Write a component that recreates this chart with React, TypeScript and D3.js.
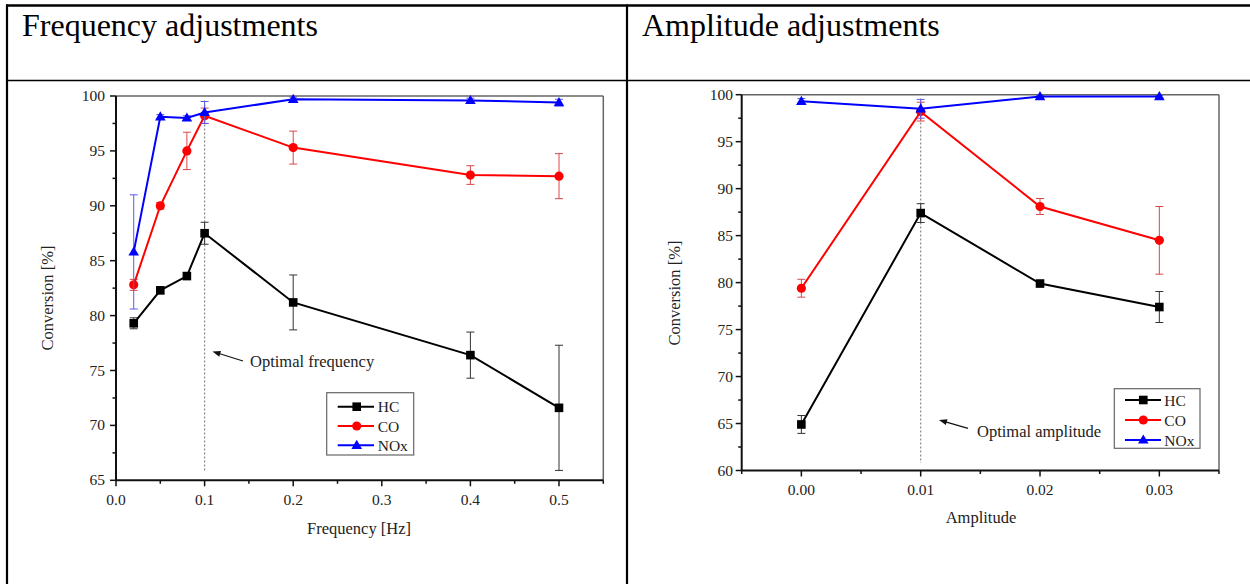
import React from "react";
import * as d3 from "d3";

// ---------- DATA ----------
const freqX = [0.02, 0.05, 0.08, 0.1, 0.2, 0.4, 0.5];
const freqHC = [79.3, 82.3, 83.6, 87.5, 81.2, 76.4, 71.6];
const freqHCErr = [0.5, 0.3, 0.3, 1.0, 2.5, 2.1, 5.7];
const freqCO = [82.8, 90.0, 95.0, 98.2, 95.3, 92.8, 92.7];
const freqCOErr = [0.5, 0.3, 1.7, 0.7, 1.5, 0.85, 2.05];
const freqNOx = [85.8, 98.1, 98.0, 98.5, 99.7, 99.6, 99.4];
const freqNOxErr = [5.2, 0.2, 0.2, 1.0, 0.2, 0.2, 0.3];

const ampX = [0, 0.01, 0.02, 0.03];
const ampHC = [64.9, 87.4, 79.9, 77.4];
const ampHCErr = [0.95, 1.0, 0.2, 1.65];
const ampCO = [79.4, 98.2, 88.1, 84.5];
const ampCOErr = [0.95, 1.0, 0.85, 3.6];
const ampNOx = [99.3, 98.5, 99.8, 99.8];
const ampNOxErr = [0.3, 1.0, 0.1, 0.1];

const seriesNames = ["HC", "CO", "NOx"];
const freqXTicks = [0, 0.1, 0.2, 0.3, 0.4, 0.5];
const freqXMinor = [0.05, 0.15, 0.25, 0.35, 0.45, 0.55];
const freqYTicks = [65, 70, 75, 80, 85, 90, 95, 100];
const freqYMinor = [67.5, 72.5, 77.5, 82.5, 87.5, 92.5, 97.5];
const ampXTicks = [0, 0.01, 0.02, 0.03];
const ampXMinor = [-0.005, 0.005, 0.015, 0.025, 0.035];
const ampYTicks = [60, 65, 70, 75, 80, 85, 90, 95, 100];
const ampYMinor = [62.5, 67.5, 72.5, 77.5, 82.5, 87.5, 92.5, 97.5];

const FONT = "'Liberation Serif', 'Times New Roman', serif";
const lineColors = ["#000000", "#ff0000", "#0000ff"];
const errColors = ["#333333", "#d84848", "#5a5ae6"];

type Marker = "square" | "circle" | "triangle";
const markers: Marker[] = ["square", "circle", "triangle"];

function MarkerShape({ kind, x, y, color }: { kind: Marker; x: number; y: number; color: string }) {
  if (kind === "square") return <rect x={x - 4.3} y={y - 4.3} width={8.6} height={8.6} fill={color} />;
  if (kind === "circle") return <circle cx={x} cy={y} r={4.6} fill={color} />;
  const p = d3.path();
  p.moveTo(x, y - 5.5);
  p.lineTo(x + 5.3, y + 3.6);
  p.lineTo(x - 5.3, y + 3.6);
  p.closePath();
  return <path d={p.toString()} fill={color} />;
}

interface PanelProps {
  xDomain: [number, number];
  xRange: [number, number];
  yDomain: [number, number];
  yRange: [number, number];
  xs: number[];
  ys: number[][];
  errs: number[][];
  xTicks: number[];
  xMinor: number[];
  yTicks: number[];
  yMinor: number[];
  xFmt: (v: number) => string;
  optX: number;
  optTop: number;
  optBottom: number;
  xLabel: string;
  xLabelPos: [number, number];
  yLabelPos: [number, number];
  xTickY: number;
  yTickX: number;
  annText: string;
  annTextPos: [number, number];
  arrowTail: [number, number];
  arrowHead: [number, number];
  legend: { x0: number; x1: number; y0: number; y1: number; rows: number[]; l0: number; l1: number; m: number; t: number };
}

function Panel(props: PanelProps) {
  const x = d3.scaleLinear().domain(props.xDomain).range(props.xRange);
  const y = d3.scaleLinear().domain(props.yDomain).range(props.yRange);
  const [xl, xr] = props.xRange;
  const [yb, yt] = props.yRange;
  const line = d3
    .line<[number, number]>()
    .x((d) => x(d[0]))
    .y((d) => y(d[1]));
  const { legend } = props;
  const [hx, hy] = props.arrowHead;
  const [tx, ty] = props.arrowTail;
  const ang = Math.atan2(hy - ty, hx - tx);
  const ah = 8, aw = 3;
  const ap = d3.path();
  ap.moveTo(hx, hy);
  ap.lineTo(hx - ah * Math.cos(ang) + aw * Math.sin(ang), hy - ah * Math.sin(ang) - aw * Math.cos(ang));
  ap.lineTo(hx - ah * Math.cos(ang) - aw * Math.sin(ang), hy - ah * Math.sin(ang) + aw * Math.cos(ang));
  ap.closePath();
  return (
    <g fontFamily={FONT}>
      {/* frame */}
      <line x1={xl} x2={xr} y1={yt} y2={yt} stroke="#666" strokeWidth={1.5} />
      <line x1={xr} x2={xr} y1={yt} y2={yb} stroke="#666" strokeWidth={1.5} />
      {/* optimal line */}
      <line x1={x(props.optX)} x2={x(props.optX)} y1={y(props.optTop)} y2={y(props.optBottom)} stroke="#888" strokeWidth={1.2} strokeDasharray="2,2" />
      {/* series */}
      {props.ys.map((vals, si) => (
        <g key={si}>
          {vals.map((v, i) => {
            const e = props.errs[si][i];
            const cx = x(props.xs[i]);
            return (
              <g key={i} stroke={errColors[si]} strokeWidth={1}>
                <line x1={cx} x2={cx} y1={y(v + e)} y2={y(v - e)} />
                <line x1={cx - 4} x2={cx + 4} y1={y(v + e)} y2={y(v + e)} />
                <line x1={cx - 4} x2={cx + 4} y1={y(v - e)} y2={y(v - e)} />
              </g>
            );
          })}
          <path d={line(props.xs.map((xv, i) => [xv, vals[i]] as [number, number])) || ""} fill="none" stroke={lineColors[si]} strokeWidth={2} />
          {vals.map((v, i) => (
            <MarkerShape key={i} kind={markers[si]} x={x(props.xs[i])} y={y(v)} color={lineColors[si]} />
          ))}
        </g>
      ))}
      {/* axes */}
      <line x1={xl} x2={xr} y1={yb} y2={yb} stroke="#111" strokeWidth={2} />
      <line x1={xl} x2={xl} y1={yt} y2={yb} stroke="#111" strokeWidth={2} />
      {props.xTicks.map((t) => (
        <g key={"xt" + t}>
          <line x1={x(t)} x2={x(t)} y1={yb} y2={yb + 6} stroke="#111" strokeWidth={1.5} />
          <text x={x(t)} y={props.xTickY} fontSize={15.5} textAnchor="middle" fill="#222">
            {props.xFmt(t)}
          </text>
        </g>
      ))}
      {props.xMinor.map((t) => (
        <line key={"xm" + t} x1={x(t)} x2={x(t)} y1={yb} y2={yb + 3.5} stroke="#111" strokeWidth={1.5} />
      ))}
      {props.yTicks.map((t) => (
        <g key={"yt" + t}>
          <line x1={xl - 6} x2={xl} y1={y(t)} y2={y(t)} stroke="#111" strokeWidth={1.5} />
          <text x={props.yTickX} y={y(t) + 5} fontSize={15.5} textAnchor="end" fill="#222">
            {t}
          </text>
        </g>
      ))}
      {props.yMinor.map((t) => (
        <line key={"ym" + t} x1={xl - 3.5} x2={xl} y1={y(t)} y2={y(t)} stroke="#111" strokeWidth={1.5} />
      ))}
      {/* labels */}
      <text x={props.xLabelPos[0]} y={props.xLabelPos[1]} fontSize={16.5} textAnchor="middle" fill="#222">
        {props.xLabel}
      </text>
      <text transform={`translate(${props.yLabelPos[0]},${props.yLabelPos[1]}) rotate(-90)`} fontSize={16.5} textAnchor="middle" fill="#222">
        Conversion [%]
      </text>
      {/* annotation */}
      <line x1={tx} y1={ty} x2={hx - 6 * Math.cos(ang)} y2={hy - 6 * Math.sin(ang)} stroke="#111" strokeWidth={1.2} />
      <path d={ap.toString()} fill="#111" />
      <text x={props.annTextPos[0]} y={props.annTextPos[1]} fontSize={16.5} fill="#222">
        {props.annText}
      </text>
      {/* legend */}
      <rect x={legend.x0} y={legend.y0} width={legend.x1 - legend.x0} height={legend.y1 - legend.y0} fill="white" stroke="#666" strokeWidth={1.2} />
      {seriesNames.map((n, i) => (
        <g key={n}>
          <line x1={legend.l0} x2={legend.l1} y1={legend.rows[i]} y2={legend.rows[i]} stroke={lineColors[i]} strokeWidth={2} />
          <MarkerShape kind={markers[i]} x={legend.m} y={legend.rows[i]} color={lineColors[i]} />
          <text x={legend.t} y={legend.rows[i] + 5.5} fontSize={15.5} fill="#222">
            {n}
          </text>
        </g>
      ))}
    </g>
  );
}

export default function App() {
  return (
    <svg width={1250} height={584} style={{ position: "absolute", left: 0, top: 0, background: "white" }}>
      <rect x={0} y={0} width={1250} height={584} fill="white" />
      {/* table */}
      <line x1={6} x2={1250} y1={5.5} y2={5.5} stroke="#000" strokeWidth={2.5} />
      <line x1={7} x2={7} y1={4.5} y2={584} stroke="#000" strokeWidth={2.2} />
      <line x1={627} x2={627} y1={4.5} y2={584} stroke="#000" strokeWidth={2.2} />
      <line x1={6} x2={1250} y1={80.5} y2={80.5} stroke="#000" strokeWidth={1.5} />
      <text x={22} y={36} fontSize={32} fontFamily={FONT} fill="#000">
        Frequency adjustments
      </text>
      <text x={642} y={36} fontSize={32} fontFamily={FONT} fill="#000">
        Amplitude adjustments
      </text>
      <Panel
        xDomain={[0, 0.55]}
        xRange={[116, 603.3]}
        yDomain={[65, 100]}
        yRange={[480.3, 96]}
        xs={freqX}
        ys={[freqHC, freqCO, freqNOx]}
        errs={[freqHCErr, freqCOErr, freqNOxErr]}
        xTicks={freqXTicks}
        xMinor={freqXMinor}
        yTicks={freqYTicks}
        yMinor={freqYMinor}
        xFmt={(v) => d3.format(".1f")(v)}
        optX={0.1}
        optTop={99.6}
        optBottom={65.7}
        xLabel="Frequency [Hz]"
        xLabelPos={[359, 534]}
        yLabelPos={[53, 298]}
        xTickY={505}
        yTickX={105}
        annText="Optimal frequency"
        annTextPos={[250, 367]}
        arrowTail={[243, 361]}
        arrowHead={[212.5, 351.5]}
        legend={{ x0: 326.7, x1: 413.7, y0: 392.7, y1: 455, rows: [406.7, 426, 445.3], l0: 337.7, l1: 374, m: 356.7, t: 377.7 }}
      />
      <Panel
        xDomain={[-0.005, 0.035]}
        xRange={[741.7, 1219]}
        yDomain={[60, 100]}
        yRange={[470.5, 94.7]}
        xs={ampX}
        ys={[ampHC, ampCO, ampNOx]}
        errs={[ampHCErr, ampCOErr, ampNOxErr]}
        xTicks={ampXTicks}
        xMinor={ampXMinor}
        yTicks={ampYTicks}
        yMinor={ampYMinor}
        xFmt={(v) => d3.format(".2f")(v)}
        optX={0.01}
        optTop={99.6}
        optBottom={60.8}
        xLabel="Amplitude"
        xLabelPos={[981, 523]}
        yLabelPos={[680, 293]}
        xTickY={494.5}
        yTickX={733}
        annText="Optimal amplitude"
        annTextPos={[977, 436.5]}
        arrowTail={[968, 428.3]}
        arrowHead={[939, 420]}
        legend={{ x0: 1114.3, x1: 1200, y0: 388.7, y1: 448.3, rows: [400, 420, 440], l0: 1125, l1: 1161, m: 1143.3, t: 1164.3 }}
      />
    </svg>
  );
}
